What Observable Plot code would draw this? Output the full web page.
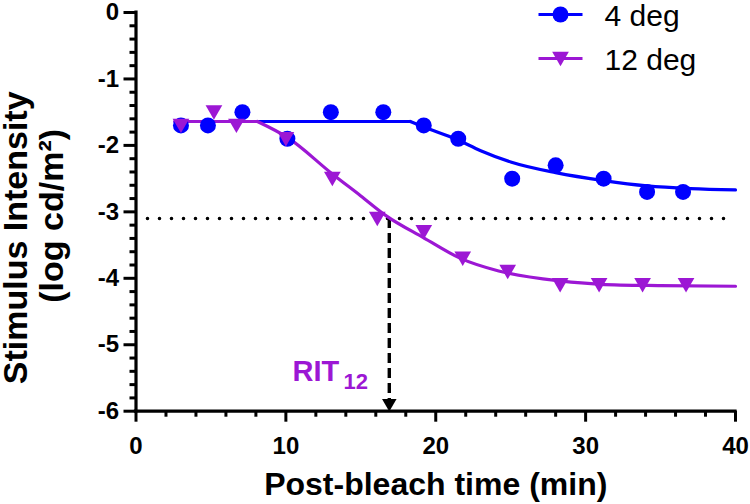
<!DOCTYPE html>
<html>
<head>
<meta charset="utf-8">
<script src="https://cdn.jsdelivr.net/npm/d3@7"></script>
<script src="https://cdn.jsdelivr.net/npm/@observablehq/plot@0.6"></script>
<style>
  html, body { margin: 0; padding: 0; background: #fff; }
  #chart { width: 750px; height: 504px; }
</style>
</head>
<body>
<div id="chart"></div>
<script>
// ---- data ----
const times4 = [3.0, 4.8, 7.1, 10.1, 13.0, 16.5, 19.2, 21.5, 25.1, 28.0, 31.2, 34.1, 36.5];
const values4 = [-1.7, -1.7, -1.5, -1.9, -1.5, -1.5, -1.7, -1.9, -2.5, -2.3, -2.5, -2.7, -2.7];
const times12 = [3.0, 5.2, 6.7, 10.0, 13.1, 16.1, 19.2, 21.8, 24.8, 28.3, 30.9, 33.8, 36.7];
const values12 = [-1.7, -1.5, -1.7, -1.9, -2.5, -3.1, -3.3, -3.7, -3.9, -4.1, -4.1, -4.1, -4.1];

// fitted curves (plateau + decay)
const fit4PlateauTime = [2.6, 18.3];
const fit4PlateauValue = [-1.64, -1.64];
const fit4DecayTime = [18.3, 19.3, 21.4, 23.0, 25.0, 28.0, 31.2, 34.1, 37.0, 40];
const fit4DecayValue = [-1.64, -1.73, -1.91, -2.08, -2.25, -2.41, -2.53, -2.61, -2.65, -2.67];
const fit12PlateauTime = [2.6, 8.1];
const fit12PlateauValue = [-1.64, -1.64];
const fit12DecayTime = [8.1, 10.1, 13.1, 15.0, 16.7, 19.2, 21.65, 24.2, 28.3, 31.0, 35.0, 40];
const fit12DecayValue = [-1.64, -1.88, -2.43, -2.76, -3.06, -3.39, -3.70, -3.89, -4.04, -4.09, -4.11, -4.12];

const threshold = -3.1;   // dotted criterion line
const rit12 = 16.9;       // RIT for 12 deg

const xMajorTicks = [0, 10, 20, 30, 40];
const xMinorTicks = [2, 4, 6, 8, 12, 14, 16, 18, 22, 24, 26, 28, 32, 34, 36, 38];
const yMajorTicks = [0, -1, -2, -3, -4, -5, -6];
const yMinorTicks = [-0.2, -0.4, -0.6, -0.8, -1.2, -1.4, -1.6, -1.8, -2.2, -2.4, -2.6, -2.8,
  -3.2, -3.4, -3.6, -3.8, -4.2, -4.4, -4.6, -4.8, -5.2, -5.4, -5.6, -5.8];

const seriesNames = ["4 deg", "12 deg"];
const colors = { "4 deg": "#0000ff", "12 deg": "#9c17d4" };
const symbols = { "4 deg": "circle", "12 deg": "triangle" };

const pts = (xs, ys, s) => xs.map((x, i) => ({ x, y: ys[i], s }));
const data4 = pts(times4, values4, "4 deg");
const data12 = pts(times12, values12, "12 deg");
const fits = [
  ...pts(fit4PlateauTime, fit4PlateauValue, "4a"),
  ...pts(fit4DecayTime, fit4DecayValue, "4b"),
  ...pts(fit12PlateauTime, fit12PlateauValue, "12a"),
  ...pts(fit12DecayTime, fit12DecayValue, "12b")
];
const fitColor = s => s.startsWith("4") ? colors["4 deg"] : colors["12 deg"];

const lineSym = { draw(ctx) { ctx.moveTo(-22, 0); ctx.lineTo(22, 0); } };
const FONT = "'Liberation Sans', Arial, Helvetica, sans-serif";

// legend marks (one row per series)
const legendMarks = seriesNames.flatMap((name, i) => {
  const dy = 2 + 44 * i;
  const c = colors[name];
  const tri = symbols[name] === "triangle";
  return [
    Plot.dot([name], { frameAnchor: "top-right", dx: -175, dy, symbol: lineSym, fill: "none", stroke: c, strokeWidth: 3.2 }),
    Plot.dot([name], { frameAnchor: "top-right", dx: -175, dy: tri ? dy - 2 : dy, symbol: symbols[name], rotate: tri ? 180 : 0, r: tri ? 6.2 : 8, fill: c, stroke: "none" }),
    Plot.text([name], { frameAnchor: "top-right", text: d => d, dx: -131, dy: dy + 1.8, textAnchor: "start", lineAnchor: "middle", fontSize: 30, fill: "#000" })
  ];
});

const chart = Plot.plot({
  width: 750,
  height: 504,
  marginLeft: 135.5,
  marginRight: 15,
  marginTop: 12,
  marginBottom: 93.3,
  style: { fontFamily: FONT, color: "#000", background: "#fff", overflow: "visible" },
  x: { domain: [0, 40] },
  y: { domain: [-6, 0] },
  marks: [
    // minor ticks
    Plot.axisX({ ticks: xMinorTicks, tickSize: 6, strokeWidth: 3, tickFormat: () => "", label: null }),
    Plot.axisY({ ticks: yMinorTicks, tickSize: 6, strokeWidth: 3, tickFormat: () => "", label: null }),
    // major ticks + labels
    Plot.axisX({ ticks: xMajorTicks, tickSize: 11, tickPadding: 15, strokeWidth: 3, fontSize: 24, fontWeight: "bold", tickFormat: d => String(d), label: null }),
    Plot.axisY({ ticks: yMajorTicks, tickSize: 12, tickPadding: 5, strokeWidth: 3, fontSize: 24, fontWeight: "bold", tickFormat: d => String(d), label: null }),
    // axis lines
    Plot.ruleY([-6], { strokeWidth: 3.2, strokeLinecap: "square" }),
    Plot.ruleX([0], { strokeWidth: 3.2, strokeLinecap: "square" }),
    // dotted criterion
    Plot.ruleY([threshold], { x1: 0.8, x2: 40, strokeWidth: 3.6, strokeDasharray: "0 12", strokeLinecap: "round" }),
    // dashed drop line + arrowhead
    Plot.ruleX([rit12], { y1: threshold, y2: -5.85, strokeWidth: 3.4, strokeDasharray: "10 5" }),
    Plot.dot([rit12], { x: d => d, y: -6, symbol: "triangle", rotate: 180, r: 5.4, fill: "#000", stroke: "none", dy: -8 }),
    // fitted curves
    Plot.line(fits, { x: "x", y: "y", z: "s", stroke: d => fitColor(d.s), strokeWidth: 3.2, curve: "monotone-x" }),
    // data points
    Plot.dot(data4, { x: "x", y: "y", r: 8, fill: colors["4 deg"], stroke: "none" }),
    Plot.dot(data12, { x: "x", y: "y", symbol: "triangle", rotate: 180, r: 6.2, fill: colors["12 deg"], stroke: "none", dy: -2 }),
    // RIT label
    Plot.text(["RIT"], { x: 10.44, y: -5.55, text: d => d, textAnchor: "start", lineAnchor: "bottom", fontSize: 29, fontWeight: "bold", fill: colors["12 deg"] }),
    Plot.text(["12"], { x: 13.85, y: -5.67, text: d => d, textAnchor: "start", lineAnchor: "bottom", fontSize: 22, fontWeight: "bold", fill: colors["12 deg"] }),
    // x title
    Plot.text(["Post-bleach time (min)"], { frameAnchor: "bottom", text: d => d, dy: 84, textAnchor: "middle", lineAnchor: "bottom", fontSize: 32, fontWeight: "bold" }),
    // y title (two lines)
    Plot.text(["Stimulus Intensity"], { frameAnchor: "left", text: d => d, rotate: -90, dx: -109, dy: 26, textAnchor: "middle", lineAnchor: "bottom", fontSize: 34, fontWeight: "bold" }),
    Plot.text(["(log cd/m\u00b2)"], { frameAnchor: "left", text: d => d, rotate: -90, dx: -73, dy: 4, textAnchor: "middle", lineAnchor: "bottom", fontSize: 34, fontWeight: "bold" }),
    ...legendMarks
  ]
});

document.getElementById("chart").appendChild(chart);
</script>
</body>
</html>
